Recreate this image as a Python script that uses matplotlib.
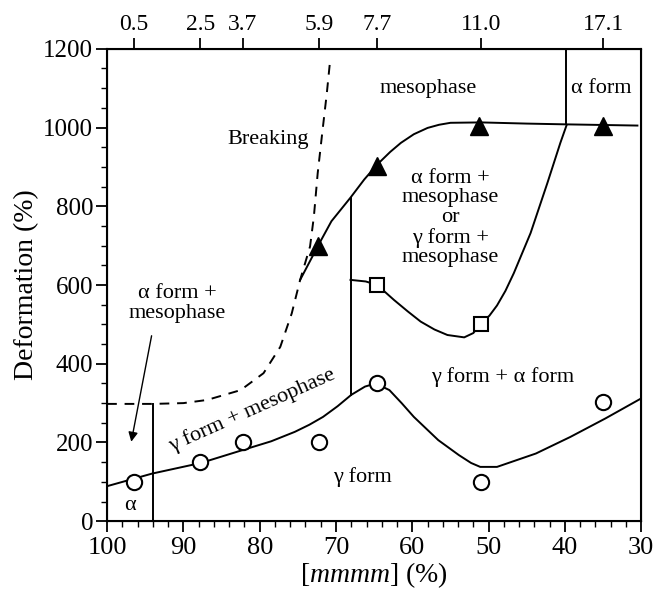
import matplotlib.pyplot as plt

plt.rcParams['font.family'] = ['Liberation Serif', 'DejaVu Serif']
plt.rcParams['mathtext.fontset'] = 'custom'
plt.rcParams['mathtext.it'] = 'Liberation Serif:italic'
plt.rcParams['mathtext.rm'] = 'Liberation Serif'

# measured points
circ_x = [96.5, 87.8, 82.2, 72.2, 64.6, 51.0, 35.0]
circ_y = [100, 150, 200, 200, 352, 100, 302]
tri_x = [72.3, 64.6, 51.2, 35.0]
tri_y = [700, 903, 1005, 1005]
sq_x = [64.6, 51.0]
sq_y = [600, 500]

# top axis: tick positions and labels
top_pos = [96.5, 87.8, 82.2, 72.2, 64.6, 51.0, 35.0]
top_labels = ['0.5', '2.5', '3.7', '5.9', '7.7', '11.0', '17.1']

# phase boundaries
gamma_x = [100, 94.1, 87.7, 82.2, 78.5, 75.4, 73.5, 71.7, 69.8, 68.0, 66.2, 64.8,
           63.0, 61.4, 59.8, 56.6, 53.9, 52.3, 51.1, 48.9, 43.8, 39.3, 34.7, 30.0]
gamma_y = [89, 121, 148, 181, 203, 227, 245, 265, 292, 321, 342, 350,
           333, 300, 265, 206, 168, 148, 138, 138, 172, 214, 261, 312]

meso_x = [74.7, 72.4, 70.6, 68.1, 66.3, 64.6, 62.9, 61.5, 59.8, 58.0, 56.5, 55.0,
          51.0, 45.0, 39.7, 30.5]
meso_y = [613, 698, 762, 822, 868, 906, 938, 961, 983, 999, 1007, 1012,
          1013, 1010, 1008, 1005]

sq_line_x = [68.1, 66.1, 64.6, 62.4, 60.6, 58.9, 57.1, 55.4, 53.2, 52.0, 51.0, 49.9,
             48.9, 47.8, 46.7, 44.5, 42.3, 40.6, 39.8]
sq_line_y = [613, 609, 600, 562, 533, 507, 487, 473, 467, 478, 503, 522,
             548, 585, 630, 732, 859, 961, 1005]

break_x = [100, 94, 90, 86.9, 82.5, 79.5, 77.3, 75.8, 74.7, 73.4, 72.9, 72.4,
           71.8, 71.2, 70.8]
break_y = [298, 298, 300, 308, 333, 376, 443, 528, 613, 698, 774, 884,
           987, 1088, 1165]

fig = plt.figure(figsize=(6.57, 5.95), dpi=100)
ax = fig.add_axes([0.163, 0.124, 0.813, 0.794])

lw = 1.4
ax.plot(gamma_x, gamma_y, color='black', lw=lw)
ax.plot(meso_x, meso_y, color='black', lw=lw)
ax.plot(sq_line_x, sq_line_y, color='black', lw=lw)
ax.plot(break_x, break_y, color='black', lw=lw, ls=(0, (5, 4)))
ax.plot([94, 94], [0, 298], color='black', lw=lw)
ax.plot([68.1, 68.1], [321, 822], color='black', lw=lw)
ax.plot([39.9, 39.9], [1008, 1200], color='black', lw=lw)

ax.plot(circ_x, circ_y, 'o', ms=11, mfc='white', mec='black', mew=1.5)
ax.plot(tri_x, tri_y, '^', ms=13, color='black')
ax.plot(sq_x, sq_y, 's', ms=10, mfc='white', mec='black', mew=1.5)

fs = 16
ax.text(78.9, 969, 'Breaking', fontsize=fs, ha='center', va='center')
ax.text(57.9, 1100, 'mesophase', fontsize=fs, ha='center', va='center')
ax.text(35.2, 1100, 'α form', fontsize=fs, ha='center', va='center')
ax.text(55.0, 770, 'α form +\nmesophase\nor\nγ form +\nmesophase', fontsize=fs,
        ha='center', va='center', linespacing=1.05)
ax.text(90.8, 553, 'α form +\nmesophase', fontsize=fs, ha='center', va='center',
        linespacing=1.05)
ax.text(81.0, 282, 'γ form + mesophase', fontsize=fs, ha='center', va='center',
        rotation=24, rotation_mode='anchor')
ax.text(48.2, 367, 'γ form + α form', fontsize=fs, ha='center', va='center')
ax.text(66.5, 113, 'γ form', fontsize=fs, ha='center', va='center')
ax.text(97.0, 41, 'α', fontsize=fs, ha='center', va='center')
ax.annotate('', xy=(96.9, 195), xytext=(94.1, 478),
            arrowprops=dict(arrowstyle='-|>', color='black', lw=1.0,
                            mutation_scale=14))

ax.set_xlim(100, 30)
ax.set_ylim(0, 1200)
ax.set_xticks(range(100, 29, -10))
ax.set_xticks(range(100, 29, -2), minor=True)
ax.set_yticks(range(0, 1201, 200))
ax.set_yticks(range(0, 1201, 50), minor=True)
ax.tick_params(which='major', direction='out', length=8, width=1.3, labelsize=19,
               top=False, right=False)
ax.tick_params(which='minor', direction='out', length=4, width=1.0,
               top=False, right=False)
ax.tick_params(axis='y', labelsize=18, pad=2)
for s in ax.spines.values():
    s.set_linewidth(1.5)

ax.set_xlabel('[$mmmm$] (%)', fontsize=20, labelpad=1)
ax.set_ylabel('Deformation (%)', fontsize=20, labelpad=3)

top = ax.twiny()
top.set_xlim(ax.get_xlim())
top.set_xticks(top_pos)
top.set_xticklabels(top_labels)
top.tick_params(direction='out', length=8, width=1.3, labelsize=17, pad=2)

fig.savefig('out.png', dpi=100)
